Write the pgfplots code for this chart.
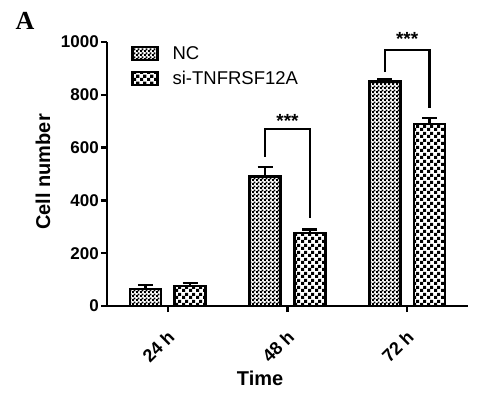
\documentclass[border=0pt]{standalone}
\usepackage{fontspec}
\setmainfont{Liberation Sans}
\newfontfamily\serifA{Liberation Serif}
\usepackage{pgfplots}
\pgfplotsset{compat=1.18}
\usetikzlibrary{patterns}
\pgfdeclarepatternformonly{finecheck}{\pgfpointorigin}{\pgfqpoint{4pt}{4pt}}{\pgfqpoint{4pt}{4pt}}{%
  \pgfpathrectangle{\pgfpointorigin}{\pgfqpoint{2.2pt}{2.2pt}}%
  \pgfpathrectangle{\pgfqpoint{2pt}{2pt}}{\pgfqpoint{2.2pt}{2.2pt}}%
  \pgfusepath{fill}}
\pgfdeclarepatternformonly{coarsecheck}{\pgfpointorigin}{\pgfqpoint{7pt}{7pt}}{\pgfqpoint{7pt}{7pt}}{%
  \pgfpathrectangle{\pgfpointorigin}{\pgfqpoint{3.5pt}{3.5pt}}%
  \pgfpathrectangle{\pgfqpoint{3.5pt}{3.5pt}}{\pgfqpoint{3.5pt}{3.5pt}}%
  \pgfusepath{fill}}
\begin{document}
\begin{tikzpicture}
\begin{axis}[
  scale only axis,
  width=361pt, height=264pt,
  xmin=-0.508, xmax=2.508,
  ymin=0, ymax=1000,
  clip=false,
  axis x line*=bottom, axis y line*=left,
  axis line style={line width=2.5pt},
  every tick/.style={black, line width=2.5pt},
  tick align=outside,
  major tick length=6pt,
  xtick={0,1,2},
  xticklabels={24 h,48 h,72 h},
  ytick={0,200,400,600,800,1000},
  /pgf/number format/assume math mode=true,
  /pgf/number format/1000 sep={},
  ticklabel style={font=\fontsize{17}{17}\selectfont\bfseries},
  yticklabel style={inner sep=1pt, xshift=-1pt},
  xticklabel style={rotate=45, anchor=north east, inner sep=1pt, xshift=-12pt, yshift=-10pt,
    font=\fontsize{18}{18}\selectfont\bfseries},
  xlabel={Time},
  ylabel={Cell number},
  label style={font=\fontsize{20}{20}\selectfont\bfseries},
  xlabel style={at={(axis description cs:0.424,0)}, anchor=center, yshift=-72pt},
  ylabel style={at={(axis description cs:-0.177,0.508)}, anchor=center},
  legend style={at={(axis description cs:0.058,0.995)}, anchor=north west, draw=none, fill=none,
    font=\fontsize{18.5}{19}\selectfont,
    nodes={font=\fontsize{18.5}{19}\selectfont, inner sep=1pt},
    row sep=8pt,
    /tikz/every odd column/.append style={column sep=13pt}},
  legend cell align=left,
  legend image code/.code={\draw[#1, line width=2.5pt] (0pt,-6.5pt) rectangle (25pt,6.5pt);},
]
\addplot[ybar, bar width=31pt, bar shift=0pt, draw=black, line width=2.5pt, pattern=finecheck, pattern color=black,
  error bars/.cd, y dir=plus, y explicit,
  error bar style={line width=2.5pt, black},
  error mark options={rotate=90, mark size=7.5pt, line width=2.5pt, black}]
  coordinates {(-0.1875,65) +- (0,15) (0.8125,490) +- (0,36) (1.8125,850) +- (0,10)};
\addplot[ybar, bar width=31pt, bar shift=0pt, draw=black, line width=2.5pt, pattern=coarsecheck, pattern color=black,
  error bars/.cd, y dir=plus, y explicit,
  error bar style={line width=2.5pt, black},
  error mark options={rotate=90, mark size=7.5pt, line width=2.5pt, black}]
  coordinates {(0.1875,75) +- (0,13) (1.1875,276) +- (0,14) (2.1875,690) +- (0,22)};
\legend{NC, si-TNFRSF12A}
% significance brackets
\addplot[sharp plot, no marks, black, line width=2.5pt, line join=miter] coordinates {(0.8125,565) (0.8125,670) (1.1875,670) (1.1875,335)};
\addplot[sharp plot, no marks, black, line width=2.5pt, line join=miter] coordinates {(1.8125,886) (1.8125,970) (2.1875,970) (2.1875,750)};
\node[font=\fontsize{19}{19}\selectfont\bfseries] at (axis cs:1,700) {***};
\node[font=\fontsize{19}{19}\selectfont\bfseries] at (axis cs:2,1011) {***};
\end{axis}
\node[font=\fontsize{26}{26}\selectfont\bfseries\serifA, anchor=center] at (-82pt,285pt) {A};
\pgfresetboundingbox
\path[use as bounding box] (-107pt,-90pt) rectangle (390pt,306pt);
\end{tikzpicture}
\end{document}
